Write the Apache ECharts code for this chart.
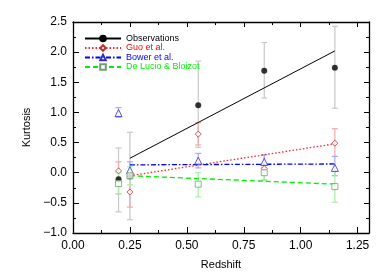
<!DOCTYPE html>
<html><head><meta charset="utf-8">
<script src="https://cdn.jsdelivr.net/npm/echarts@6/dist/echarts.min.js"></script>
<style>html,body{margin:0;padding:0;background:#fff}#c{width:390px;height:279px}</style>
</head><body><div id="c"></div>
<script>
const redshift = [0.2, 0.25, 0.55, 0.84, 1.15];
const obs   = [-0.11, -0.06, 1.12, 1.69, 1.74];
const obsLo = [-0.65, -0.78, 0.42, 1.24, 1.07];
const obsHi = [0.41, 0.67, 1.85, 2.16, 2.43];
const guo   = [0.03, -0.32, 0.64, 0.07, 0.49];
const guoLo = [-0.35, -0.57, 0.46, -0.12, 0.27];
const guoHi = [0.18, -0.05, 0.83, 0.30, 0.73];
const bower   = [0.99, 0.04, 0.20, 0.18, 0.08];
const bowerLo = [0.92, -0.10, 0.08, 0.08, -0.05];
const bowerHi = [1.08, 0.18, 0.32, 0.30, 0.27];
const delucia   = [-0.18, -0.05, -0.19, 0.00, -0.23];
const deluciaLo = [-0.35, -0.20, -0.40, -0.13, -0.49];
const deluciaHi = [0.00, 0.10, 0.00, 0.12, 0.02];
const fitX = [0.25, 1.15];
const obsFit = [0.24, 2.02];
const guoFit = [-0.05, 0.48];
const bowerFit = [0.13, 0.145];
const deluciaFit = [-0.05, -0.19];
const xTicks = [0, 0.25, 0.5, 0.75, 1.0, 1.25];
const xMinor = [0.125, 0.375, 0.625, 0.875, 1.125];
const yTicks = [-1.0, -0.5, 0, 0.5, 1.0, 1.5, 2.0, 2.5];
const yMinor = [-0.75, -0.25, 0.25, 0.75, 1.25, 1.75, 2.25];
const names = ['Observations', 'Guo et al.', 'Bower et al.', 'De Lucio & Bloizot'];

const FONT = 'Liberation Sans';
const pair = (xs, ys) => xs.map((x, i) => [x, ys[i]]);
const errData = (lo, hi) => redshift.map((x, i) => [x, lo[i], hi[i]]);

function errRender(color) {
  return function (params, api) {
    const x = api.value(0), lo = api.value(1), hi = api.value(2);
    const p1 = api.coord([x, hi]), p2 = api.coord([x, lo]);
    const w = 3;
    const st = { stroke: color, lineWidth: 1.2 };
    return { type: 'group', children: [
      { type: 'line', shape: { x1: p1[0], y1: p1[1], x2: p2[0], y2: p2[1] }, style: st },
      { type: 'line', shape: { x1: p1[0] - w, y1: p1[1], x2: p1[0] + w, y2: p1[1] }, style: st },
      { type: 'line', shape: { x1: p2[0] - w, y1: p2[1], x2: p2[0] + w, y2: p2[1] }, style: st }
    ]};
  };
}
function errSeries(lo, hi, color) {
  return { type: 'custom', renderItem: errRender(color), data: errData(lo, hi),
    encode: { x: 0, y: [1, 2] }, z: 1, silent: true };
}

function xAx(pos, vals, len, labels, line) {
  return { type: 'value', min: 0, max: 1.3, position: pos,
    axisLine: { show: line, onZero: false, lineStyle: { color: '#000', width: 1.3 } },
    splitLine: { show: false },
    axisTick: { show: true, inside: true, length: len, customValues: vals, lineStyle: { color: '#000' } },
    axisLabel: labels ? { show: true, customValues: vals, color: '#000', fontFamily: FONT, fontSize: 12, margin: 7,
      formatter: v => v.toFixed(2) } : { show: false } };
}
function yAx(pos, vals, len, labels, line) {
  return { type: 'value', min: -1.0, max: 2.5, position: pos,
    axisLine: { show: line, onZero: false, lineStyle: { color: '#000', width: 1.3 } },
    splitLine: { show: false },
    axisTick: { show: true, inside: true, length: len, customValues: vals, lineStyle: { color: '#000' } },
    axisLabel: labels ? { show: true, customValues: vals, color: '#000', fontFamily: FONT, fontSize: 12, margin: 6,
      padding: [0, 0, 5, 0], formatter: v => (v < 0 ? '\u2212' + Math.abs(v).toFixed(1) : v.toFixed(1)) } : { show: false } };
}

const xs = [xAx('bottom', xTicks, 6, true, true), xAx('bottom', xMinor, 3, false, false),
            xAx('top', xTicks, 5, false, true), xAx('top', xMinor, 3, false, false)];
const ys = [yAx('left', yTicks, 6, true, true), yAx('left', yMinor, 3, false, false),
            yAx('right', yTicks, 5, false, true), yAx('right', yMinor, 3, false, false)];
xs[0].name = 'Redshift'; xs[0].nameLocation = 'middle'; xs[0].nameGap = 26;
xs[0].nameTextStyle = { color: '#000', fontFamily: FONT, fontSize: 11 };
ys[0].name = 'Kurtosis'; ys[0].nameLocation = 'middle'; ys[0].nameGap = 40; ys[0].nameRotate = 90;
ys[0].nameTextStyle = { color: '#000', fontFamily: FONT, fontSize: 11 };

const fitStyles = [
  { color: '#000000', type: 'solid', width: 1, symbol: 'circle', fill: '#000', border: '#000' },
  { color: '#ff2020', type: [1.5, 2], width: 1.3, symbol: 'diamond', fill: '#fff', border: '#c03030' },
  { color: '#0000ff', type: [5, 2, 1.5, 2], width: 1.3, symbol: 'triangle', fill: '#fff', border: '#3030c0' },
  { color: '#00ee00', type: [5, 3], width: 1.3, symbol: 'rect', fill: '#fff', border: '#70a070' }
];
const fits = [obsFit, guoFit, bowerFit, deluciaFit];
const pts = [obs, guo, bower, delucia];
const sizes = [6, 6, 7, 6];

const series = [
  errSeries(obsLo, obsHi, '#c8c8c8'),
  errSeries(guoLo, guoHi, '#f2a8a8'),
  errSeries(bowerLo, bowerHi, '#a8a8f2'),
  errSeries(deluciaLo, deluciaHi, '#a8eea8')
];
fits.forEach((f, i) => {
  const s = fitStyles[i];
  series.push({ name: names[i], type: 'line', data: pair(fitX, f), showSymbol: false, symbol: s.symbol, symbolSize: 5,
    itemStyle: { color: s.fill, borderColor: s.border, borderWidth: 1 },
    lineStyle: { color: s.color, type: s.type, width: s.width }, z: 2, silent: true, animation: false });
});
pts.forEach((p, i) => {
  const s = fitStyles[i];
  series.push({ name: names[i] + ' pts', type: 'scatter', data: pair(redshift, p), symbol: s.symbol, symbolSize: sizes[i],
    itemStyle: { color: s.fill, borderColor: s.border, borderWidth: i === 0 ? 0 : 1 }, z: 3, silent: true });
});

const legendColors = ['#000000', '#ff0000', '#0000ff', '#00ee00'];
const chart = echarts.init(document.getElementById('c'), null, { renderer: 'canvas' });
chart.setOption({
  animation: false,
  grid: { left: 73, right: 21, top: 22, bottom: 46 },
  xAxis: xs, yAxis: ys,
  legend: { orient: 'vertical', left: 84, top: 34, itemWidth: 36, itemHeight: 7, itemGap: 0.5, padding: 0,
    textStyle: { fontFamily: FONT, fontSize: 9 },
    data: names.map((n, i) => ({ name: n, textStyle: { color: legendColors[i] } })) },
  series: series
});
</script></body></html>
